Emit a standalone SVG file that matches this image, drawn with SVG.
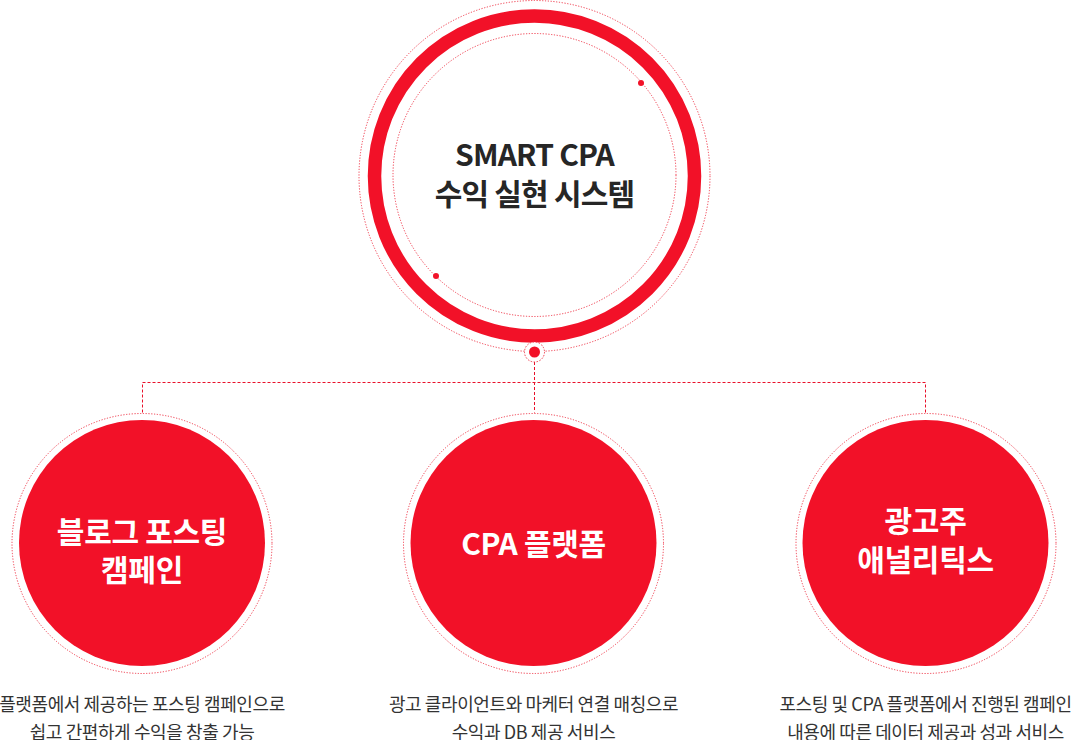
<svg xmlns="http://www.w3.org/2000/svg" width="1072" height="740" viewBox="0 0 1072 740">
<defs>
<style>
.dot{fill:none;stroke:#f0384a;stroke-width:1;stroke-dasharray:1.2 1.6}
.dash{fill:none;stroke:#e8102a;stroke-width:1;stroke-dasharray:3 2}
.red{fill:#f21128}
.title{font-family:"Noto Sans CJK KR","Noto Sans",sans-serif;font-weight:700;fill:#ffffff;font-size:30px;text-anchor:middle;letter-spacing:-0.3px}
.head{font-family:"Noto Sans CJK KR","Noto Sans",sans-serif;font-weight:700;fill:#262626;font-size:30px;text-anchor:middle;letter-spacing:-0.8px}
.desc{font-family:"Noto Sans CJK KR","Noto Sans",sans-serif;font-weight:400;fill:#333333;font-size:18px;text-anchor:middle;letter-spacing:-0.4px}
</style>
</defs>
<rect width="1072" height="740" fill="#ffffff"/>
<g id="connectors">
<path class="dash" d="M534.5 362 V412.5 M142.5 412.5 V382.5 H925.5 V412.5"/>
</g>
<g id="node-main">
<circle class="dot" cx="534.5" cy="176" r="175.5"/>
<circle cx="534.5" cy="176" r="160" fill="none" stroke="#f21128" stroke-width="13.5"/>
<circle class="dot" cx="534.5" cy="175" r="141.5"/>
<circle class="red" cx="641" cy="83" r="3"/>
<circle class="red" cx="436" cy="276" r="3"/>
<circle cx="534.5" cy="352" r="10" fill="#ffffff" stroke="#f0384a" stroke-width="1" stroke-dasharray="1.5 1.5"/>
<circle class="red" cx="534.5" cy="352" r="5.5"/>
<text class="head" x="534.5" y="166">SMART CPA</text>
<text class="head" x="534.5" y="205">수익 실현 시스템</text>
</g>
<g id="node-blog">
<circle class="dot" cx="142" cy="543.5" r="130"/>
<circle class="red" cx="142" cy="543" r="123"/>
<text class="title" x="142" y="543">블로그 포스팅</text>
<text class="title" x="142" y="581">캠페인</text>
<text class="desc" x="142" y="711">플랫폼에서 제공하는 포스팅 캠페인으로</text>
<text class="desc" x="142" y="739">쉽고 간편하게 수익을 창출 가능</text>
</g>
<g id="node-cpa">
<circle class="dot" cx="533.5" cy="543.5" r="130"/>
<circle class="red" cx="533.5" cy="543" r="123"/>
<text class="title" x="533.5" y="555">CPA 플랫폼</text>
<text class="desc" x="533.5" y="711">광고 클라이언트와 마케터 연결 매칭으로</text>
<text class="desc" x="533.5" y="739">수익과 DB 제공 서비스</text>
</g>
<g id="node-analytics">
<circle class="dot" cx="926" cy="543.5" r="130"/>
<circle class="red" cx="925.5" cy="543" r="123"/>
<text class="title" x="925.5" y="532">광고주</text>
<text class="title" x="925.5" y="571">애널리틱스</text>
<text class="desc" x="925.5" y="711">포스팅 및 CPA 플랫폼에서 진행된 캠페인</text>
<text class="desc" x="925.5" y="739">내용에 따른 데이터 제공과 성과 서비스</text>
</g>
</svg>
